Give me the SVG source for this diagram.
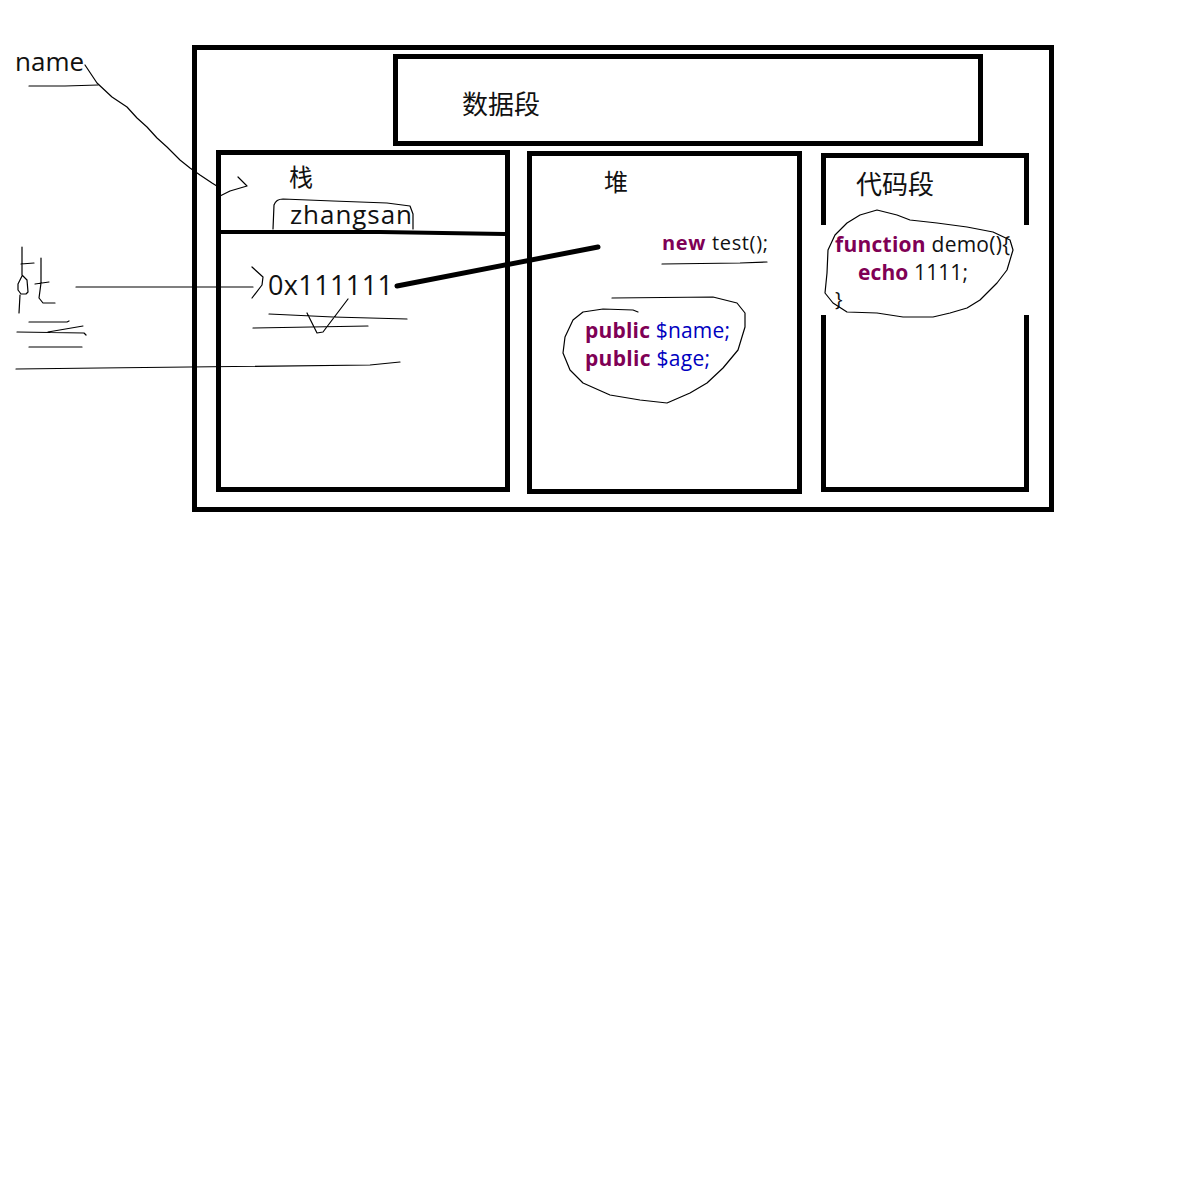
<svg xmlns="http://www.w3.org/2000/svg" width="1200" height="1200" viewBox="0 0 1200 1200">
<style>
.box{fill:none;stroke:#000;stroke-width:5}
.ink{fill:none;stroke:#000;stroke-width:1.2;stroke-linejoin:round;stroke-linecap:round}
.t{font-family:"Open Sans","Liberation Sans","Noto Sans CJK SC",sans-serif;fill:#111}
.cjk{font-family:"Noto Sans CJK SC","Liberation Sans",sans-serif;fill:#111}
.kw{font-weight:bold;fill:#7f0055}
.var{fill:#0000c0}
</style>
<rect width="1200" height="1200" fill="#fff"/>
<g id="memory">
  <rect class="box" x="194.5" y="47.5" width="857" height="462"/>
</g>
<g id="data-segment">
  <rect class="box" x="395.5" y="56.5" width="585" height="87"/>
  <text class="cjk" x="462" y="114" font-size="26">数据段</text>
</g>
<g id="stack">
  <rect class="box" x="218.5" y="152.5" width="289" height="337"/>
  <path d="M218 232 L380 232 L505 234" fill="none" stroke="#000" stroke-width="4"/>
  <text class="cjk" x="289" y="186" font-size="24">栈</text>
  <text class="t" x="290" y="224" font-size="26" textLength="122">zhangsan</text>
  <path class="ink" d="M273 229 L274 205 Q276 199 283 199 L333 201 L387 203 L410 206 L413 214 L413 229"/>
  <text class="t" x="268" y="295" font-size="27" textLength="125">0x111111</text>
</g>
<g id="heap">
  <rect class="box" x="529.5" y="153.5" width="270" height="338"/>
  <text class="cjk" x="604" y="191" font-size="24">堆</text>
  <text class="t" x="662" y="250" font-size="20" textLength="106"><tspan class="kw">new</tspan> test();</text>
  <text class="t" x="585" y="338" font-size="21" textLength="145"><tspan class="kw">public</tspan> <tspan class="var">$name;</tspan></text>
  <text class="t" x="585" y="366" font-size="21" textLength="125"><tspan class="kw">public</tspan> <tspan class="var">$age;</tspan></text>
</g>
<g id="code-segment">
  <path class="box" d="M823.5 225 L823.5 155.5 L1026.5 155.5 L1026.5 225"/>
  <path class="box" d="M823.5 315 L823.5 489.5 L1026.5 489.5 L1026.5 315"/>
  <text class="cjk" x="856" y="194" font-size="26">代码段</text>
  <text class="t" x="835" y="252" font-size="21" textLength="175"><tspan class="kw">function</tspan> demo(){</text>
  <text class="t" x="858" y="280" font-size="21" textLength="110"><tspan class="kw">echo</tspan> 1111;</text>
  <text class="t" x="835" y="306" font-size="20">}</text>
</g>
<g id="name-label">
  <text class="t" x="15" y="71" font-size="26">name</text>
  <path class="ink" d="M29 86 L65 86 L98 85"/>
</g>
<g id="address-label">
  <path class="ink" d="M22 247 L22 275 L27 280 L28 292 L26 294 L21 294 L18 290 L18 284 L22 276 M20 295 L19 313 M21 264 L34 263 M41 258 L41 283 L39 298 L43 303 L55 303 M35 284 L49 282"/>
  <path class="ink" d="M29 322 L67 322 L69 321 M17 332 L84 333 L86 335 M48 332 L83 326 M29 347 L82 347 M16 369 L100 368 L370 365 L400 362"/>
</g>
<g id="connectors">
  <path class="ink" d="M85 65 L97 83 L112 97 L127 107 L137 118 L147 127 L157 138 L167 147 L180 160 L190 168 L200 175 L212 183 L220 188"/>
  <path class="ink" d="M238 177 L247 186 L230 191 L218 197"/>
  <path class="ink" d="M76 287 L253 287"/>
  <path class="ink" d="M252 267 L263 277 L262 285 L252 298"/>
  <path class="ink" d="M269 314 L333 317 L407 319 M253 328 L368 326 M307 313 L317 333 L323 332 L348 299"/>
  <path d="M397 286 L598 247" fill="none" stroke="#000" stroke-width="5" stroke-linecap="round"/>
  <path class="ink" d="M662 264 L740 263 L767 262"/>
  <path class="ink" d="M612 298 L713 297 L737 303 L745 313 L745 327 L738 350 L723 368 L707 383 L690 393 L667 403 L640 400 L610 395 L583 383 L570 370 L563 353 L565 337 L573 320 L583 312 L603 309 L633 310 L638 312"/>
  <path class="ink" d="M877 210 L897 215 L910 220 L937 223 L967 227 L993 232 L1010 240 L1013 250 L1007 270 L997 283 L980 300 L967 308 L950 313 L933 317 L903 317 L877 313 L847 312 L833 303 L825 293 L827 273 L828 250 L835 235 L847 223 L860 215 L877 210"/>
</g>
</svg>
